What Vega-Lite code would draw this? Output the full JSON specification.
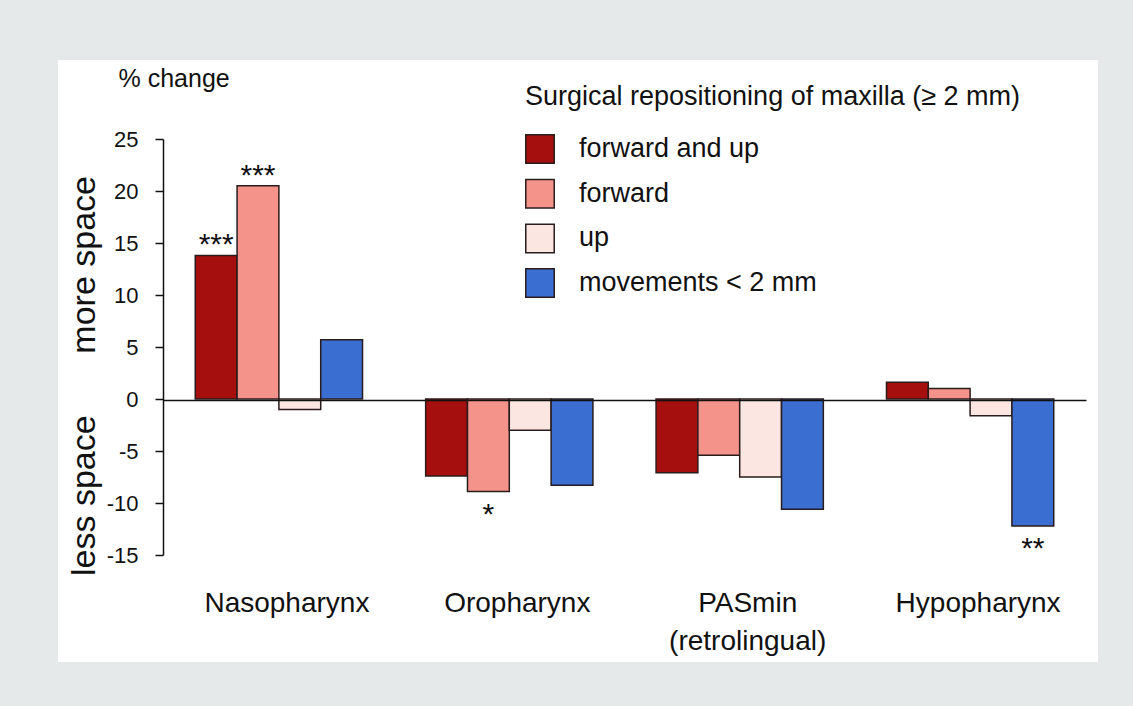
{
  "$schema": "https://vega.github.io/schema/vega-lite/v6.json",
  "width": 1040,
  "height": 602,
  "autosize": {"type": "none"},
  "padding": {"left": 58, "top": 60, "right": 35, "bottom": 44},
  "background": "#e6e9ea",
  "config": {
    "view": {"fill": "white", "stroke": null},
    "font": "Liberation Sans",
    "text": {"font": "Liberation Sans", "color": "#111111"}
  },
  "data": {
    "values": [
      {"region": "Nasopharynx", "group": "forward and up", "value": 13.8, "sig": "***"},
      {"region": "Nasopharynx", "group": "forward", "value": 20.5, "sig": "***"},
      {"region": "Nasopharynx", "group": "up", "value": -1.0, "sig": ""},
      {"region": "Nasopharynx", "group": "movements < 2 mm", "value": 5.7, "sig": ""},
      {"region": "Oropharynx", "group": "forward and up", "value": -7.4, "sig": ""},
      {"region": "Oropharynx", "group": "forward", "value": -8.9, "sig": "*"},
      {"region": "Oropharynx", "group": "up", "value": -3.0, "sig": ""},
      {"region": "Oropharynx", "group": "movements < 2 mm", "value": -8.3, "sig": ""},
      {"region": "PASmin (retrolingual)", "group": "forward and up", "value": -7.1, "sig": ""},
      {"region": "PASmin (retrolingual)", "group": "forward", "value": -5.4, "sig": ""},
      {"region": "PASmin (retrolingual)", "group": "up", "value": -7.5, "sig": ""},
      {"region": "PASmin (retrolingual)", "group": "movements < 2 mm", "value": -10.6, "sig": ""},
      {"region": "Hypopharynx", "group": "forward and up", "value": 1.6, "sig": ""},
      {"region": "Hypopharynx", "group": "forward", "value": 1.0, "sig": ""},
      {"region": "Hypopharynx", "group": "up", "value": -1.6, "sig": ""},
      {"region": "Hypopharynx", "group": "movements < 2 mm", "value": -12.2, "sig": "**"}
    ]
  },
  "layer": [
    {
      "mark": {"type": "bar", "stroke": "#2a1c1c", "strokeWidth": 1.5},
      "encoding": {
        "x": {
          "field": "region",
          "type": "nominal",
          "sort": ["Nasopharynx", "Oropharynx", "PASmin (retrolingual)", "Hypopharynx"],
          "scale": {"range": [105, 1028], "paddingInner": 0.274, "paddingOuter": 0.14},
          "axis": {
            "orient": "bottom",
            "offset": -262,
            "title": null,
            "domain": true,
            "domainColor": "#111111",
            "domainWidth": 1.5,
            "ticks": false,
            "labelPadding": 189,
            "labelFontSize": 28,
            "labelColor": "#111111",
            "labelAngle": 0,
            "labelOffset": 8,
            "labelBaseline": "top",
            "labelLineHeight": 38,
            "labelExpr": "datum.value == 'PASmin (retrolingual)' ? ['PASmin', '(retrolingual)'] : datum.value",
            "zindex": 1
          }
        },
        "xOffset": {
          "field": "group",
          "sort": ["forward and up", "forward", "up", "movements < 2 mm"],
          "scale": {"paddingInner": 0, "paddingOuter": 0}
        },
        "y": {
          "field": "value",
          "type": "quantitative",
          "scale": {"domain": [-15, 25], "range": [495, 79], "nice": false, "zero": false},
          "axis": {
            "orient": "left",
            "offset": -105,
            "values": [-15, -10, -5, 0, 5, 10, 15, 20, 25],
            "labelExpr": "toString(datum.value)",
            "grid": false,
            "tickSize": 8,
            "tickColor": "#111111",
            "tickWidth": 1.5,
            "domainColor": "#111111",
            "domainWidth": 1.5,
            "labelFontSize": 22,
            "labelPadding": 17,
            "labelColor": "#111111",
            "title": "% change",
            "titleAngle": 0,
            "titleAlign": "left",
            "titleBaseline": "middle",
            "titleX": -45,
            "titleY": 18,
            "titleFontSize": 25,
            "titleFontWeight": "normal",
            "titleColor": "#111111"
          }
        },
        "color": {
          "field": "group",
          "type": "nominal",
          "sort": ["forward and up", "forward", "up", "movements < 2 mm"],
          "scale": {
            "domain": ["forward and up", "forward", "up", "movements < 2 mm"],
            "range": ["#a50f0d", "#f4938a", "#fce6e1", "#3a6fd1"]
          },
          "legend": {
            "orient": "none",
            "legendX": 467,
            "legendY": 24,
            "padding": 0,
            "title": "Surgical repositioning of maxilla (≥ 2 mm)",
            "titleFontSize": 27,
            "titleFontWeight": "normal",
            "titleColor": "#111111",
            "titlePadding": 23,
            "titleLimit": 700,
            "labelFontSize": 27,
            "labelColor": "#111111",
            "labelOffset": 24,
            "labelLimit": 500,
            "symbolType": "square",
            "symbolSize": 810,
            "symbolStrokeColor": "#2a1c1c",
            "symbolStrokeWidth": 1.5,
            "symbolOpacity": 1,
            "rowPadding": 8.7
          }
        }
      }
    },
    {
      "transform": [{"filter": "datum.sig != '' && datum.value > 0"}],
      "mark": {"type": "text", "fontSize": 30, "baseline": "alphabetic", "align": "center", "dy": -1},
      "encoding": {
        "x": {"field": "region", "type": "nominal", "sort": ["Nasopharynx", "Oropharynx", "PASmin (retrolingual)", "Hypopharynx"]},
        "xOffset": {"field": "group", "sort": ["forward and up", "forward", "up", "movements < 2 mm"]},
        "y": {"field": "value", "type": "quantitative"},
        "text": {"field": "sig"}
      }
    },
    {
      "transform": [{"filter": "datum.sig != '' && datum.value < 0"}],
      "mark": {"type": "text", "fontSize": 30, "baseline": "alphabetic", "align": "center", "dy": 32},
      "encoding": {
        "x": {"field": "region", "type": "nominal", "sort": ["Nasopharynx", "Oropharynx", "PASmin (retrolingual)", "Hypopharynx"]},
        "xOffset": {"field": "group", "sort": ["forward and up", "forward", "up", "movements < 2 mm"]},
        "y": {"field": "value", "type": "quantitative"},
        "text": {"field": "sig"}
      }
    },
    {
      "data": {"values": [{"side": "more space", "pos": 12.9}, {"side": "less space", "pos": -9.3}]},
      "mark": {"type": "text", "fontSize": 34, "angle": 270, "align": "center", "baseline": "middle"},
      "encoding": {
        "x": {"value": 27},
        "y": {"field": "pos", "type": "quantitative"},
        "text": {"field": "side"}
      }
    }
  ]
}
